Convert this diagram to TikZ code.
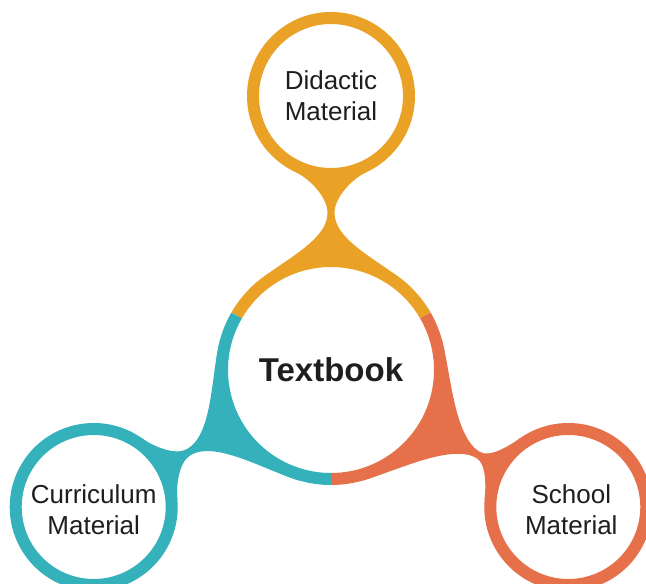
\documentclass[tikz,border=0pt]{standalone}
\usepackage{fontspec}
\setmainfont{Liberation Sans}
\usetikzlibrary{calc}
\definecolor{didactic}{HTML}{E9A226}
\definecolor{curric}{HTML}{35B1BB}
\definecolor{school}{HTML}{E6704A}
\definecolor{ink}{HTML}{1E1E1E}
\tikzset{ring/.style={line width=12pt, fill=white},
         arcseg/.style={line width=12pt},
         boxtext/.style={text=ink, align=center, font=\fontsize{26}{31}\selectfont}}

\begin{document}
\begin{tikzpicture}[x=1pt,y=1pt]
    \def\dist{274}
    \def\bigr{109}
    \def\smallr{78}
    \def\half{3.5}

    \useasboundingbox[fill=white] (0,0) rectangle (646,584);

    \coordinate (MAIN) at (331,214);
    \coordinate (TOP) at ($(MAIN)+(90:\dist)$);
    \coordinate (LEFT) at ($(MAIN)+(210:\dist)$);
    \coordinate (RIGHT) at ($(MAIN)+(330:\dist)$);

    % Necks
    \foreach \ang/\col/\n in {90/didactic/157, 210/curric/164, 330/school/170}{
        \begin{scope}[shift={(MAIN)}, rotate=\ang-90]
            \fill[\col] (-81.3,81.3) .. controls (-56.5,106) and (-\half,{\n-30}) .. (-\half,\n)
                .. controls (-\half,{\n+0.4*(197.9-\n)}) and (-21.9,191.6) .. (-35.5,197.9) -- (0,\dist)
                -- (35.5,197.9) .. controls (21.9,191.6) and (\half,{\n+0.4*(197.9-\n)}) .. (\half,\n)
                .. controls (\half,{\n-30}) and (56.5,106) .. (81.3,81.3) -- (0,0) -- cycle;
        \end{scope}
    }

    % Textbook ring
    \fill[white] (MAIN) circle (\bigr);
    \draw[arcseg, didactic] ($(MAIN)+(30:\bigr)$) arc[start angle=30, end angle=150, radius=\bigr];
    \draw[arcseg, curric] ($(MAIN)+(150:\bigr)$) arc[start angle=150, end angle=270, radius=\bigr];
    \draw[arcseg, school] ($(MAIN)+(270:\bigr)$) arc[start angle=270, end angle=390, radius=\bigr];

    % Outer rings
    \draw[didactic, ring] (TOP) circle (\smallr);
    \draw[curric, ring] (LEFT) circle (\smallr);
    \draw[school, ring] (RIGHT) circle (\smallr);

    % Labels
    \node[text=ink, font=\fontsize{33}{40}\selectfont\bfseries] (textbook) at (MAIN) {Textbook};
    \node[boxtext] (didactic) at (TOP) {Didactic\\Material};
    \node[boxtext] (curriculum) at ($(LEFT)+(0,-3)$) {Curriculum\\Material};
    \node[boxtext] (schoolmat) at ($(RIGHT)+(3,-3)$) {School\\Material};
\end{tikzpicture}
\end{document}
